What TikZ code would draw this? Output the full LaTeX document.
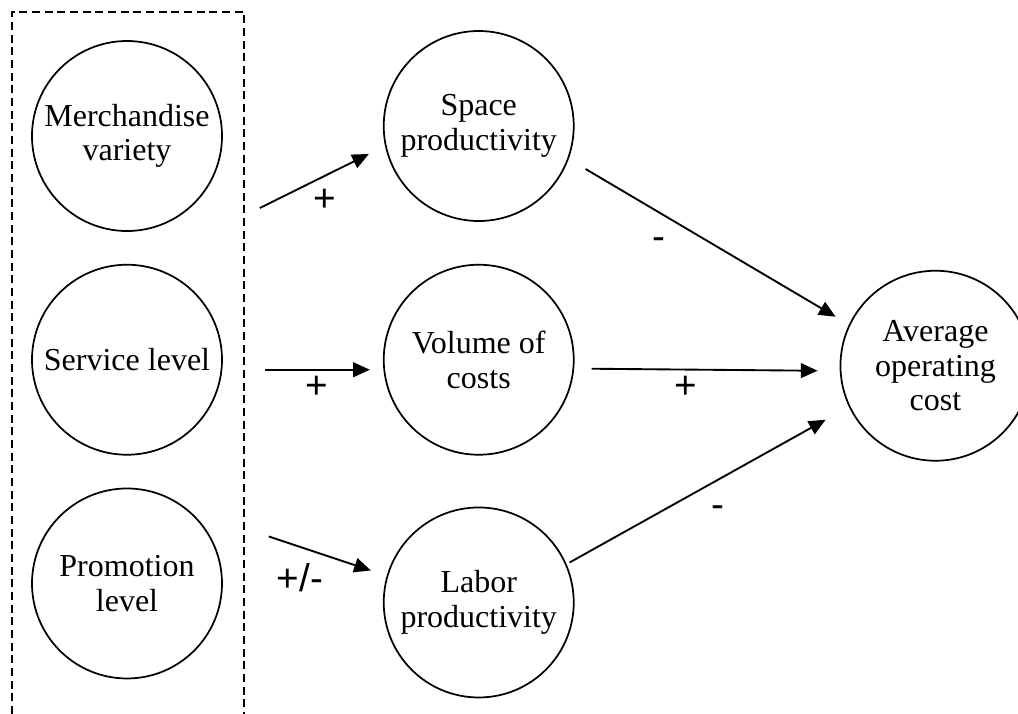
\documentclass[tikz,border=0pt]{standalone}
\usepackage{fontspec}
\setmainfont{Liberation Serif}
\newfontfamily\signfont{Liberation Sans}
\usetikzlibrary{arrows.meta,positioning}

\begin{document}
\begin{tikzpicture}[x=0.75pt,y=-0.75pt,
                    factor/.style={circle,draw,line width=1.3pt,minimum size=142.5pt,inner sep=0pt,
                                   align=center,font=\fontsize{24}{26}\selectfont},
                    sign/.style={inner sep=0pt,font=\signfont\fontsize{29}{32}\selectfont},
                    flow/.style={->,line width=1.4pt},
                    >={Triangle[length=12.5pt,width=11pt]}]

\useasboundingbox (0,0) rectangle (1018,714);

% store policies
\draw[line width=1.3pt,dash pattern=on 6pt off 3.5pt] (12,714) -- (12,12) -- (244,12) -- (244,714);
\node[factor] (variety) at (127,136) {Merchandise\\variety};
\node[factor,below=24pt of variety] (service) {Service level};
\node[factor,below=24pt of service] (promo) {Promotion\\level};

% intermediate factors
\node[factor,right=120pt of service] (volume) {Volume of\\costs};
\node[factor,above=31.5pt of volume] (space) {Space\\productivity};
\node[factor,below=38.25pt of volume] (labor) {Labor\\productivity};

\node[factor,right=198.75pt of volume,yshift=-4.5pt] (cost) {Average\\operating\\cost};

\draw[flow] ([shift={(37,72)}]variety.east) -- ([shift={(-14,28)}]space.west);
\draw[flow] ([shift={(42,10)}]service.east) -- ([shift={(-13,10)}]volume.west);
\draw[flow] ([shift={(46,-47)}]promo.east) -- ([shift={(-12,-32)}]labor.west);
\draw[flow] ([shift={(11,43)}]space.east) -- ([shift={(-4,-49)}]cost.west);
\draw[flow] ([shift={(17,9)}]volume.east) -- ([shift={(-22,5)}]cost.west);
\draw[flow] ([shift={(-5,-40)}]labor.east) -- ([shift={(-14,54)}]cost.west);

\node[sign] (s1) at (325,200) {+};
\node[sign] (s2) at (317,387) {+};
\node[sign] (s3) at (300,578) {+/-};
\node[sign] (s4) at (659,244) {-};
\node[sign] (s5) at (686,387) {+};
\node[sign] (s6) at (718,512) {-};

\end{tikzpicture}
\end{document}
